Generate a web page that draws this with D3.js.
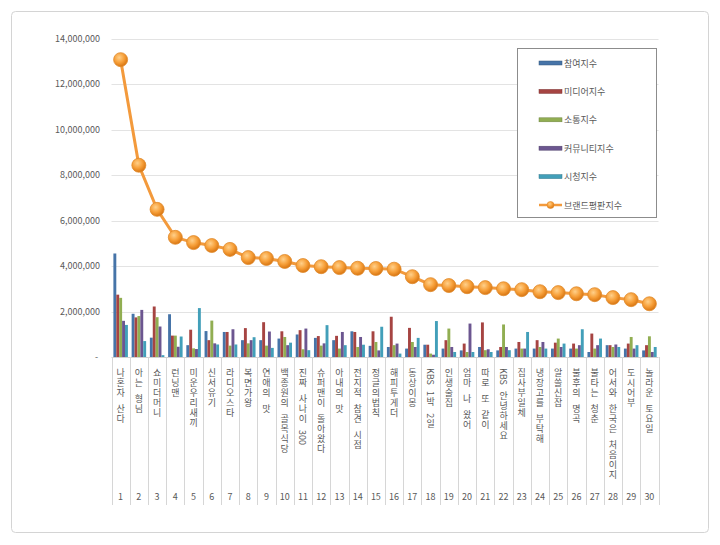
<!DOCTYPE html>
<html>
<head>
<meta charset="utf-8">
<script src="https://cdn.jsdelivr.net/npm/d3@7"></script>
<style>
  body { margin: 0; background: #fff; }
  text { font-family: "Noto Sans CJK KR", "Noto Sans", sans-serif; fill: #595959; }
  .vertical { writing-mode: vertical-rl; text-orientation: mixed; }
</style>
</head>
<body>
<svg id="chart" width="720" height="545"></svg>
<script>
'use strict';

// 프로그램 이름 (1~30위)
const programmes = ["나혼자 산다", "아는 형님", "쇼미더머니", "런닝맨", "미운우리새끼", "신서유기", "라디오스타",
    "복면가왕", "연애의 맛", "백종원의 골목식당", "진짜 사나이 300", "슈퍼맨이 돌아왔다", "아내의 맛",
    "전지적 참견 시점", "정글의법칙", "해피투게더", "동상이몽", "KBS 1박 2일", "인생술집", "엄마 나 왔어",
    "따로 또 같이", "KBS 안녕하세요", "집사부일체", "냉장고를 부탁해", "알쓸신잡", "불후의 명곡",
    "불타는 청춘", "어서와 한국은 처음이지", "도시어부", "놀라운 토요일"];

const series = ["참여지수", "미디어지수", "소통지수", "커뮤니티지수", "시청지수"];

const participation = [4550000, 1900000, 850000, 1880000, 520000, 1140000, 1100000, 740000, 740000, 810000,
    990000, 840000, 740000, 1130000, 490000, 440000, 370000, 540000, 370000, 290000,
    440000, 290000, 370000, 370000, 370000, 370000, 220000, 520000, 370000, 290000];
const media = [2740000, 1740000, 2220000, 940000, 1200000, 740000, 1100000, 1270000, 1530000, 1130000,
    1180000, 920000, 930000, 1100000, 1130000, 1770000, 1280000, 540000, 740000, 590000,
    1520000, 440000, 660000, 740000, 630000, 590000, 1030000, 520000, 590000, 520000];
const communication = [2600000, 1800000, 1750000, 940000, 380000, 1600000, 500000, 600000, 500000, 880000,
    340000, 500000, 370000, 440000, 660000, 520000, 660000, 150000, 1250000, 220000,
    300000, 1430000, 370000, 440000, 810000, 370000, 370000, 440000, 880000, 910000];
const community = [1590000, 2070000, 1340000, 450000, 350000, 600000, 1220000, 740000, 1120000, 520000,
    1250000, 600000, 1100000, 880000, 290000, 590000, 440000, 100000, 440000, 1470000,
    340000, 440000, 370000, 660000, 440000, 520000, 520000, 550000, 370000, 220000];
const viewing = [1410000, 700000, 80000, 900000, 2150000, 550000, 550000, 870000, 400000, 630000,
    300000, 1400000, 520000, 540000, 1330000, 150000, 840000, 1580000, 220000, 220000,
    220000, 300000, 1100000, 370000, 590000, 1220000, 810000, 440000, 520000, 440000];

const brandIndex = [13070000, 8430000, 6490000, 5260000, 5030000, 4900000, 4730000, 4370000, 4330000, 4200000,
    4020000, 3970000, 3930000, 3900000, 3890000, 3860000, 3530000, 3180000, 3140000, 3090000,
    3050000, 3000000, 2960000, 2870000, 2830000, 2780000, 2740000, 2610000, 2520000, 2340000];
const lineName = "브랜드평판지수";

const yTicks = [0, 2000000, 4000000, 6000000, 8000000, 10000000, 12000000, 14000000];

const couleurs = ["#4674A8", "#A64442", "#91AE52", "#6C5690", "#429FB9"];
const orange = "#F39A3C";

const svg = d3.select("#chart");

// cadre extérieur
svg.append("rect")
    .attr("x", 11.5).attr("y", 11.5).attr("width", 697).attr("height", 521)
    .attr("rx", 4).attr("fill", "#fff").attr("stroke", "#d4d4d4");

const x = d3.scaleBand().domain(d3.range(programmes.length)).range([111.5, 658.5]);
const y = d3.scaleLinear().domain([0, 14000000]).range([357, 38.5]);

// grille horizontale
svg.append("g").selectAll("line").data(yTicks.slice(1)).join("line")
    .attr("x1", 111.5).attr("x2", 658.5)
    .attr("y1", d => Math.round(y(d)) + 0.5).attr("y2", d => Math.round(y(d)) + 0.5)
    .attr("stroke", "#e3e3e3");

// axe Y (format comptable : 0 = "-")
const fmt = d3.format(",");
svg.append("g").selectAll("text").data(yTicks).join("text")
    .attr("x", d => d === 0 ? 98 : 100)
    .attr("y", d => y(d) + 3)
    .attr("text-anchor", "end")
    .attr("font-size", 9)
    .text(d => d === 0 ? "-" : fmt(d));

// barres groupées
const x1 = d3.scaleBand().domain(d3.range(series.length)).range([1.9, 16.4]);
const tableau = [participation, media, communication, community, viewing];
const groupes = svg.append("g").selectAll("g").data(programmes).join("g")
    .attr("transform", (d, i) => `translate(${x(i)},0)`);
groupes.selectAll("rect")
    .data((d, i) => tableau.map((s, k) => ({ k: k, v: s[i] })))
    .join("rect")
    .attr("x", d => x1(d.k))
    .attr("width", x1.bandwidth())
    .attr("y", d => y(d.v))
    .attr("height", d => y(0) - y(d.v))
    .attr("fill", d => couleurs[d.k]);

// axe X : ligne de base + séparateurs
svg.append("line").attr("x1", 111.5).attr("x2", 658.5).attr("y1", 357.5).attr("y2", 357.5)
    .attr("stroke", "#d0d0d0");
svg.append("g").selectAll("line").data(d3.range(programmes.length + 1)).join("line")
    .attr("x1", i => Math.round(111.5 + i * x.step()) + 0.5)
    .attr("x2", i => Math.round(111.5 + i * x.step()) + 0.5)
    .attr("y1", 357).attr("y2", 505)
    .attr("stroke", "#d6d6d6");

// étiquettes verticales : un texte par caractère, les suites latines pivotées
programmes.forEach((nom, i) => {
    const cx = x(i) + x.bandwidth() / 2;
    let yy = 368;
    nom.match(/[A-Za-z0-9]+|./g).forEach(m => {
        if (m === " ") {
            yy += 6;
            return;
        }
        svg.append("text")
            .attr("class", "vertical")
            .attr("x", cx).attr("y", yy)
            .attr("font-size", 9)
            .text(m);
        yy += /^[A-Za-z0-9]+$/.test(m) ? m.length * 5.3 + 1 : 10;
    });
    svg.append("text")
        .attr("x", cx).attr("y", 500)
        .attr("text-anchor", "middle")
        .attr("font-size", 9)
        .text(i + 1);
});

// dégradé des marqueurs
const defs = svg.append("defs");
const grad = defs.append("radialGradient").attr("id", "bille").attr("cx", "40%").attr("cy", "35%").attr("r", "65%");
grad.append("stop").attr("offset", "0%").attr("stop-color", "#FFD08A");
grad.append("stop").attr("offset", "55%").attr("stop-color", "#F7A03A");
grad.append("stop").attr("offset", "100%").attr("stop-color", "#D97612");

// courbe de l'indice de marque
const ligne = d3.line().x((d, i) => x(i) + x.bandwidth() / 2).y(d => y(d));
svg.append("path").datum(brandIndex)
    .attr("d", ligne)
    .attr("fill", "none")
    .attr("stroke", orange)
    .attr("stroke-width", 3);
svg.append("g").selectAll("circle").data(brandIndex).join("circle")
    .attr("cx", (d, i) => x(i) + x.bandwidth() / 2)
    .attr("cy", d => y(d))
    .attr("r", 7)
    .attr("fill", "url(#bille)")
    .attr("stroke", "#E08A2C")
    .attr("stroke-width", 0.8);

// légende
const leg = svg.append("g");
leg.append("rect").attr("x", 517.5).attr("y", 48.5).attr("width", 139).attr("height", 169)
    .attr("fill", "#fff").attr("stroke", "#8c8c8c");
series.forEach((s, k) => {
    const ly = 63 + k * 28.4;
    leg.append("rect").attr("x", 539).attr("y", ly - 2).attr("width", 23).attr("height", 4)
        .attr("fill", couleurs[k]).attr("stroke", d3.color(couleurs[k]).darker(0.8)).attr("stroke-width", 0.5);
    leg.append("text").attr("x", 564).attr("y", ly + 3.5).attr("font-size", 9).text(s);
});
const ly = 63 + 5 * 28.4;
leg.append("line").attr("x1", 539).attr("x2", 562).attr("y1", ly).attr("y2", ly)
    .attr("stroke", orange).attr("stroke-width", 2.5);
leg.append("circle").attr("cx", 550.5).attr("cy", ly).attr("r", 3.5)
    .attr("fill", "url(#bille)").attr("stroke", "#E08A2C").attr("stroke-width", 0.6);
leg.append("text").attr("x", 564).attr("y", ly + 3.5).attr("font-size", 9).text(lineName);
</script>
</body>
</html>
